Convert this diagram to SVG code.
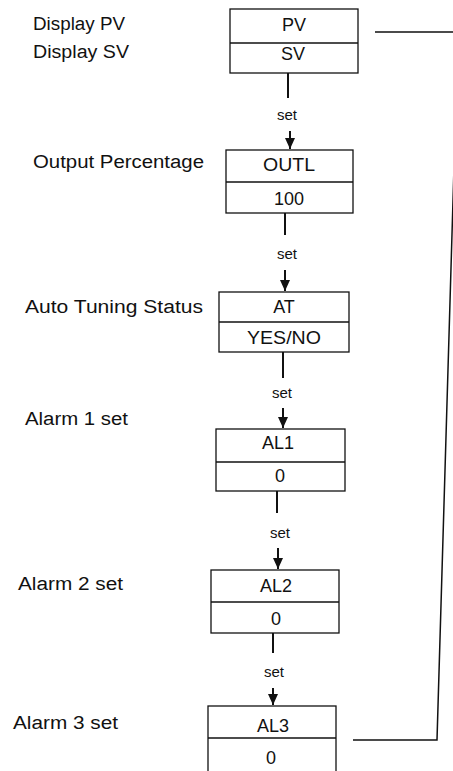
<svg xmlns="http://www.w3.org/2000/svg" width="453" height="771" viewBox="0 0 453 771">
<style>
.bg{fill:#fff}
.box{fill:#fff;stroke:#111;stroke-width:1.3}
.div{stroke:#111;stroke-width:1.3}
.lbl{font-family:"Liberation Sans",Arial,sans-serif;font-size:18px;fill:#111}
.val{font-family:"Liberation Sans",Arial,sans-serif;font-size:18px;fill:#111;text-anchor:middle}
.set{font-family:"Liberation Sans",Arial,sans-serif;font-size:15px;fill:#111;text-anchor:middle}
.ln{stroke:#111;stroke-width:2;fill:none}
.loop{stroke:#111;stroke-width:1.5;fill:none}
</style>
<defs>
<marker id="ah" markerUnits="userSpaceOnUse" markerWidth="12" markerHeight="11" refX="11" refY="5" orient="auto">
<path d="M0,0 L11,5 L0,10 z" fill="#111"/>
</marker>
</defs>
<rect class="bg" x="0" y="0" width="453" height="771"/>

<g id="labels">
<text class="lbl" x="33" y="30" textLength="92" lengthAdjust="spacingAndGlyphs">Display PV</text>
<text class="lbl" x="33" y="58" textLength="96" lengthAdjust="spacingAndGlyphs">Display SV</text>
<text class="lbl" x="33" y="168" textLength="171" lengthAdjust="spacingAndGlyphs">Output Percentage</text>
<text class="lbl" x="25" y="313" textLength="178" lengthAdjust="spacingAndGlyphs">Auto Tuning Status</text>
<text class="lbl" x="25" y="425" textLength="103" lengthAdjust="spacingAndGlyphs">Alarm 1 set</text>
<text class="lbl" x="18" y="590" textLength="105" lengthAdjust="spacingAndGlyphs">Alarm 2 set</text>
<text class="lbl" x="13" y="729" textLength="105" lengthAdjust="spacingAndGlyphs">Alarm 3 set</text>
</g>

<g id="node-pv">
<rect class="box" x="230" y="9" width="128" height="64"/>
<line class="div" x1="230" y1="43" x2="358" y2="43"/>
<text class="val" x="294" y="31">PV</text>
<text class="val" x="293" y="60">SV</text>
</g>

<g id="node-outl">
<rect class="box" x="226" y="150" width="127" height="63"/>
<line class="div" x1="226" y1="182" x2="353" y2="182"/>
<text class="val" x="289" y="171" textLength="52" lengthAdjust="spacingAndGlyphs">OUTL</text>
<text class="val" x="289" y="205">100</text>
</g>

<g id="node-at">
<rect class="box" x="219" y="292" width="130" height="60"/>
<line class="div" x1="219" y1="322" x2="349" y2="322"/>
<text class="val" x="284" y="313">AT</text>
<text class="val" x="284" y="344" textLength="74" lengthAdjust="spacingAndGlyphs">YES/NO</text>
</g>

<g id="node-al1">
<rect class="box" x="216" y="429" width="129" height="62"/>
<line class="div" x1="216" y1="462" x2="345" y2="462"/>
<text class="val" x="278" y="449">AL1</text>
<text class="val" x="280" y="482">0</text>
</g>

<g id="node-al2">
<rect class="box" x="211" y="570" width="128" height="63"/>
<line class="div" x1="211" y1="602" x2="339" y2="602"/>
<text class="val" x="276" y="592">AL2</text>
<text class="val" x="276" y="625">0</text>
</g>

<g id="node-al3">
<rect class="box" x="208" y="706" width="128" height="80"/>
<line class="div" x1="208" y1="738" x2="336" y2="738"/>
<text class="val" x="273" y="732">AL3</text>
<text class="val" x="271" y="764">0</text>
</g>

<g id="connectors">
<line class="ln" x1="288" y1="73" x2="288" y2="98"/>
<text class="set" x="287" y="120">set</text>
<line class="ln" x1="290" y1="131" x2="290" y2="149" marker-end="url(#ah)"/>

<line class="ln" x1="285" y1="213" x2="285" y2="235"/>
<text class="set" x="287" y="259">set</text>
<line class="ln" x1="285" y1="270" x2="285" y2="291" marker-end="url(#ah)"/>

<line class="ln" x1="283" y1="352" x2="283" y2="378"/>
<text class="set" x="282" y="398">set</text>
<line class="ln" x1="283" y1="408" x2="283" y2="428" marker-end="url(#ah)"/>

<line class="ln" x1="277" y1="491" x2="277" y2="513"/>
<text class="set" x="280" y="538">set</text>
<line class="ln" x1="278" y1="548" x2="278" y2="569" marker-end="url(#ah)"/>

<line class="ln" x1="273" y1="633" x2="273" y2="653"/>
<text class="set" x="274" y="677">set</text>
<line class="ln" x1="273" y1="688" x2="273" y2="705" marker-end="url(#ah)"/>

<path class="loop" d="M375,32 H458 L437,740 H353"/>
</g>
</svg>
